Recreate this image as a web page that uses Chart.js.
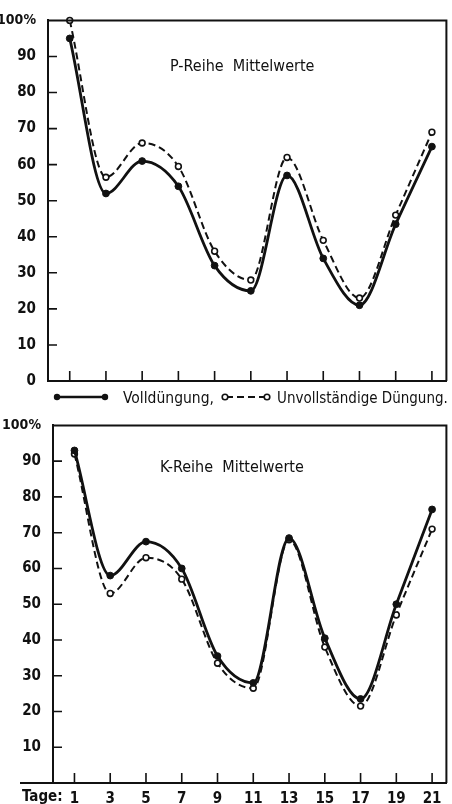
<!DOCTYPE html>
<html>
<head>
<meta charset="utf-8">
<script src="https://cdn.jsdelivr.net/npm/chart.js@4.4.1/dist/chart.umd.min.js"></script>
<style>
  html, body { margin: 0; padding: 0; background: #fff; }
  #wrap {
    position: relative; width: 452px; height: 804px; overflow: hidden;
    font-family: "DejaVu Sans Condensed", "Liberation Sans Narrow", "Liberation Sans", sans-serif;
    color: #111;
  }
  canvas { position: absolute; left: 0; }
  #c1 { top: 0; }
  #c2 { top: 405px; }
  .t { position: absolute; white-space: pre; font-size: 16px; line-height: 16px; }
  #legend { position: absolute; left: 0; top: 388px; }
</style>
</head>
<body>
<div id="wrap">
  <canvas id="c1" width="452" height="410"></canvas>
  <canvas id="c2" width="452" height="399"></canvas>

  <div class="t" style="left:170px;top:58px">P-Reihe  Mittelwerte</div>
  <div class="t" style="left:160px;top:459px">K-Reihe  Mittelwerte</div>

  <svg id="legend" width="452" height="18">
    <line x1="57" y1="9" x2="105" y2="9" stroke="#111" stroke-width="2.6"/>
    <circle cx="57" cy="9" r="3.2" fill="#111"/>
    <circle cx="105" cy="9" r="3.2" fill="#111"/>
    <line x1="226" y1="9" x2="266" y2="9" stroke="#111" stroke-width="2" stroke-dasharray="7 4"/>
    <circle cx="225" cy="9" r="2.8" fill="#fff" stroke="#111" stroke-width="1.6"/>
    <circle cx="267" cy="9" r="2.8" fill="#fff" stroke="#111" stroke-width="1.6"/>
  </svg>
  <div class="t" style="left:123px;top:390px;font-size:15.5px">Volldüngung,</div>
  <div class="t" style="left:277px;top:390px;font-size:15px">Unvollständige Düngung.</div>
  <div class="t" style="left:22px;top:788px;font-size:15px;font-weight:bold">Tage:</div>
</div>

<script>
// Sampling days (every second day)
const days = [1, 3, 5, 7, 9, 11, 13, 15, 17, 19, 21];

// P-Reihe, mean values in %
const pVoll   = [95, 52, 61, 54, 32, 25, 57, 34, 21, 43.5, 65];
const pUnvoll = [100, 56.5, 66, 59.5, 36, 28, 62, 39, 23, 46, 69];

// K-Reihe, mean values in %
const kVoll   = [93, 58, 67.5, 60, 35.5, 28, 68.5, 40.5, 23.5, 50, 76.5];
const kUnvoll = [92, 53, 63, 57, 33.5, 26.5, 68, 38, 21.5, 47, 71];

// Y axis tick values and labels
const yTicks  = [0, 10, 20, 30, 40, 50, 60, 70, 80, 90, 100];
const yLabels = ['0', '10', '20', '30', '40', '50', '60', '70', '80', '90', '100%'];

const INK = '#111';
const FAMILY = '"DejaVu Sans Condensed", "Liberation Sans Narrow", sans-serif';
const tickFont = { family: FAMILY, size: 15, weight: 'bold' };
const topFont  = { family: FAMILY, size: 14, weight: 'bold' };

function pts(vals) { return days.map((d, i) => ({ x: d, y: vals[i] })); }

// Box frame (top + right edges) and short inward tick marks
const framePlugin = {
  id: 'frame',
  afterDraw(chart, args, opts) {
    const { ctx, chartArea: a, scales: { x, y } } = chart;
    ctx.save();
    ctx.strokeStyle = INK;
    ctx.lineWidth = 2;
    ctx.beginPath();
    ctx.moveTo(a.left, a.top);
    ctx.lineTo(a.right, a.top);
    ctx.lineTo(a.right, a.bottom);
    if (opts.extendLeft !== undefined) {
      ctx.moveTo(opts.extendLeft, a.bottom);
      ctx.lineTo(a.left, a.bottom);
    }
    ctx.stroke();
    ctx.lineWidth = 1.6;
    ctx.beginPath();
    yTicks.forEach(v => {
      if (v > 0 && v < 100) {
        const py = y.getPixelForValue(v);
        ctx.moveTo(a.left, py);
        ctx.lineTo(a.left + 9, py);
      }
    });
    days.forEach(d => {
      const px = x.getPixelForValue(d);
      ctx.moveTo(px, a.bottom);
      ctx.lineTo(px, a.bottom - 10);
    });
    ctx.stroke();
    ctx.restore();
  }
};

function makeChart(id, voll, unvoll, cfg) {
  return new Chart(document.getElementById(id), {
    type: 'line',
    data: {
      datasets: [
        {
          label: 'Volldüngung',
          data: pts(voll),
          borderColor: INK, borderWidth: 2.8,
          pointRadius: 3.4, pointBackgroundColor: INK, pointBorderColor: INK, pointBorderWidth: 1,
          cubicInterpolationMode: 'monotone', clip: false
        },
        {
          label: 'Unvollständige Düngung',
          data: pts(unvoll),
          borderColor: INK, borderWidth: 2, borderDash: [7, 4],
          pointRadius: 2.9, pointBackgroundColor: '#fff', pointBorderColor: INK, pointBorderWidth: 1.6,
          cubicInterpolationMode: 'monotone', clip: false
        }
      ]
    },
    options: {
      responsive: false,
      animation: false,
      events: [],
      layout: { padding: { top: 13, right: cfg.padRight, bottom: 0, left: 0 } },
      plugins: { legend: { display: false }, tooltip: { enabled: false }, frame: { extendLeft: cfg.extendLeft } },
      scales: {
        x: {
          type: 'linear', min: -0.2, max: 21.8,
          grid: { display: false, drawTicks: false },
          border: { display: true, color: INK, width: 2 },
          afterBuildTicks: s => { s.ticks = days.map(v => ({ value: v })); },
          afterFit: s => { s.height = cfg.xHeight; },
          ticks: {
            display: cfg.xLabels, color: INK, font: tickFont, padding: 7,
            maxRotation: 0, autoSkip: false
          }
        },
        y: {
          type: 'linear', min: 0, max: 100,
          grid: { display: false, drawTicks: false },
          border: { display: true, color: INK, width: 2 },
          afterBuildTicks: s => { s.ticks = yTicks.map(v => ({ value: v })); },
          afterFit: s => { s.width = cfg.yWidth; },
          ticks: {
            color: INK, padding: 12,
            font: (c) => (c.tick && c.tick.value === 100 ? topFont : tickFont),
            callback: (v) => {
              const i = yTicks.indexOf(v);
              if (v === 0 && !cfg.zeroLabel) return '';
              return i >= 0 ? yLabels[i] : '';
            }
          }
        }
      }
    },
    plugins: [framePlugin]
  });
}

makeChart('c1', pVoll, pUnvoll, { padRight: 5, xHeight: 29, yWidth: 48, xLabels: false, zeroLabel: true });
makeChart('c2', kVoll, kUnvoll, { padRight: 1, xHeight: 21, yWidth: 53, xLabels: true, zeroLabel: false, extendLeft: 20 });
</script>
</body>
</html>
